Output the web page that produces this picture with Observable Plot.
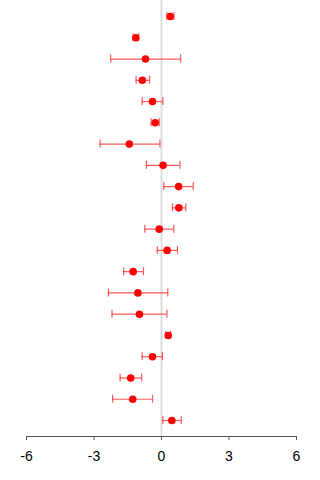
<!DOCTYPE html>
<html>
<head>
<meta charset="utf-8">
<script src="https://cdn.jsdelivr.net/npm/d3@7"></script>
<script src="https://cdn.jsdelivr.net/npm/@observablehq/plot@0.6"></script>
<style>
  html, body { margin: 0; padding: 0; background: #fff; }
  #chart svg { display: block; }
</style>
</head>
<body>
<div id="chart"></div>
<script>
// Effect estimates (point) with lower / upper confidence limits, top row first
const estimates = [0.39, -1.14, -0.71, -0.85, -0.40, -0.28, -1.43, 0.07, 0.76, 0.77,
                   -0.10, 0.25, -1.26, -1.05, -0.98, 0.30, -0.40, -1.37, -1.28, 0.46];
const lower     = [0.24, -1.26, -2.26, -1.13, -0.86, -0.46, -2.73, -0.67, 0.10, 0.49,
                   -0.74, -0.19, -1.68, -2.36, -2.20, 0.19, -0.86, -1.84, -2.17, 0.06];
const upper     = [0.55, -1.02, 0.85, -0.53, 0.06, -0.10, -0.07, 0.82, 1.41, 1.08,
                   0.55, 0.71, -0.80, 0.28, 0.24, 0.40, 0.04, -0.88, -0.40, 0.88];
const xTicks = [-6, -3, 0, 3, 6];

const rows = estimates.map((est, i) => ({row: i + 1, est, lo: lower[i], hi: upper[i]}));

const width = 320, height = 480;
const marginTop = 0, marginBottom = 44;
// vertical spacing: first row sits 16px below the top, last row 16px above the axis
const rowStep = (height - marginBottom - 32) / (rows.length - 1);
const pad = 16 / rowStep;
const cap = 4 / rowStep; // half-height of whisker caps

const chart = Plot.plot({
  width, height,
  marginLeft: 26, marginRight: 24, marginTop, marginBottom,
  style: {fontFamily: "'Liberation Sans', Arial, sans-serif", background: "#fff"},
  x: {domain: [-6, 6], ticks: xTicks, tickFormat: d => String(d)},
  y: {domain: [1 - pad, rows.length + pad], reverse: true, axis: null},
  marks: [
    Plot.ruleX([0], {stroke: "#dddddd", strokeWidth: 2}),
    Plot.ruleY([rows.length + pad], {x1: -6, x2: 6, stroke: "#555", strokeWidth: 1}),
    Plot.axisX({
      ticks: xTicks, tickSize: 4, tickPadding: 11, fontSize: 14,
      stroke: "#555", fill: "#000", tickFormat: d => String(d)
    }),
    Plot.ruleY(rows, {y: "row", x1: "lo", x2: "hi", stroke: "#ff0000", strokeOpacity: 0.65, strokeWidth: 1.2}),
    Plot.ruleX(rows, {x: "lo", y1: d => d.row - cap, y2: d => d.row + cap, stroke: "#ff0000", strokeOpacity: 0.65, strokeWidth: 1.2}),
    Plot.ruleX(rows, {x: "hi", y1: d => d.row - cap, y2: d => d.row + cap, stroke: "#ff0000", strokeOpacity: 0.65, strokeWidth: 1.2}),
    Plot.dot(rows, {x: "est", y: "row", r: 3.8, fill: "#ff0000", stroke: "none"})
  ]
});
chart.querySelectorAll("text").forEach(t => t.setAttribute("font-size", "14"));
document.getElementById("chart").appendChild(chart);
</script>
</body>
</html>
